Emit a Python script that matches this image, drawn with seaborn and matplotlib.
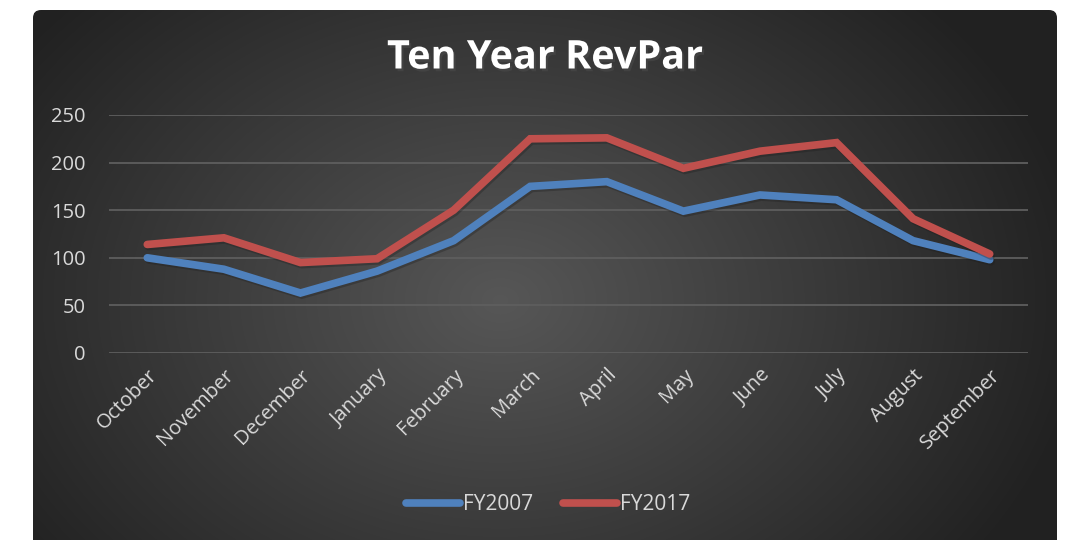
import numpy as np
import pandas as pd
import matplotlib
matplotlib.use("Agg")
import matplotlib.pyplot as plt
import matplotlib.patheffects as pe
from matplotlib.patches import FancyBboxPatch
import seaborn as sns

months = ["October", "November", "December", "January", "February", "March",
          "April", "May", "June", "July", "August", "September"]
fy2007 = [100, 88, 63, 86, 118, 175, 180, 149, 166, 161, 118, 98]
fy2017 = [114, 121, 95, 99, 150, 225, 226, 194, 212, 221, 141, 104]
series = ["FY2007", "FY2017"]
colors = ["#4F81BD", "#C0504D"]

df = pd.DataFrame({
    "month": list(range(len(months))) * 2,
    "value": fy2007 + fy2017,
    "series": [series[0]] * len(months) + [series[1]] * len(months),
})

sns.set_theme(style="dark")
plt.rcParams["font.family"] = ["Open Sans", "DejaVu Sans"]

W, H = 1071, 540
fig = plt.figure(figsize=(W / 100, H / 100), dpi=100)
fig.patch.set_facecolor("white")

# dark panel with radial gradient
bg = fig.add_axes([0, 0, 1, 1])
bg.set_xlim(0, W)
bg.set_ylim(H, 0)
bg.axis("off")
yy, xx = np.mgrid[0:H, 0:W]
r = np.sqrt(((xx - 500) / 560) ** 2 + ((yy - 300) / 420) ** 2)
shade = np.clip(0.34 - 0.2 * r, 0.13, 0.34)
img = bg.imshow(np.dstack([shade] * 3), extent=(0, W, H, 0), interpolation="bilinear")
panel = FancyBboxPatch((33, 10), 1024, 560, boxstyle="round,pad=0,rounding_size=8",
                       transform=bg.transData, facecolor="none", edgecolor="none")
bg.add_patch(panel)
img.set_clip_path(panel)

ax = fig.add_axes([109 / W, 1 - 353 / H, 919 / W, 238 / H])
ax.set_facecolor("none")
sns.lineplot(data=df, x="month", y="value", hue="series", palette=colors,
             linewidth=5.5, ax=ax, legend=False, sort=False)
for line in ax.lines:
    line.set_solid_capstyle("round")
    line.set_solid_joinstyle("miter")
    line.set_path_effects([pe.SimpleLineShadow(offset=(1, -1.5), alpha=0.3),
                           pe.Normal()])

ax.set_xlim(-0.5, len(months) - 0.5)
ax.set_ylim(0, 250)
ax.set_yticks(range(0, 251, 50))
ax.set_xticks(range(len(months)))
ax.set_xticklabels(months, rotation=45, ha="right", rotation_mode="anchor")
ax.tick_params(axis="both", colors="#d9d9d9", labelsize=14.5, length=0)
ax.tick_params(axis="y", pad=17)
ax.tick_params(axis="x", pad=9)
ax.grid(axis="y", color="#5e5e5e", linewidth=1.3)
ax.grid(axis="x", visible=False)
for s in ax.spines.values():
    s.set_visible(False)
ax.set_xlabel("")
ax.set_ylabel("")

fig.text(545 / W, 1 - 58 / H, "Ten Year RevPar", ha="center", va="center",
         color="white", fontsize=28.5, fontweight="bold",
         path_effects=[pe.withSimplePatchShadow(offset=(1.5, -2), alpha=0.5)])

# legend
handles = [plt.Line2D([0], [0], color=c, linewidth=5.5, solid_capstyle="round") for c in colors]
leg = fig.legend(handles, series, loc="center", bbox_to_anchor=(548 / W, 1 - 505 / H),
                 ncol=2, frameon=False, fontsize=15, handlelength=2.6, handletextpad=0.15,
                 columnspacing=1.4)
for t in leg.get_texts():
    t.set_color("#d9d9d9")

fig.savefig("out.png", dpi=100, facecolor=fig.get_facecolor())
